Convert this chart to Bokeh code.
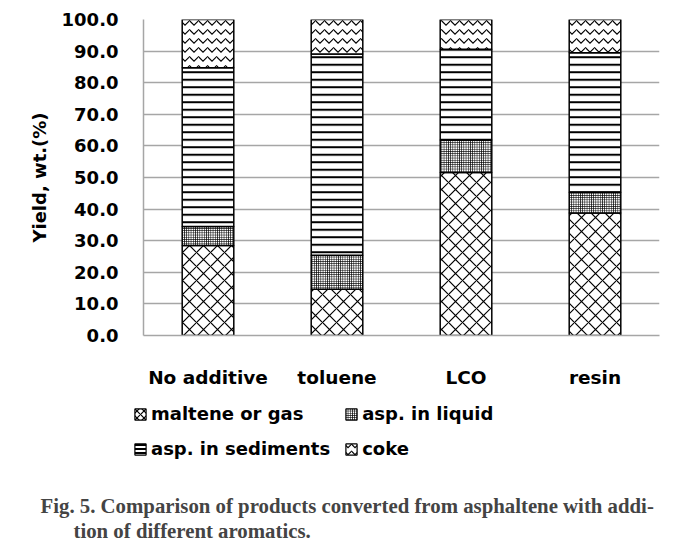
from bokeh.plotting import figure
from bokeh.models import ColumnDataSource, Legend, LegendItem, Label, Range1d, FixedTicker, NumeralTickFormatter
from bokeh.embed import file_html
from bokeh.resources import INLINE

categories = ["No additive", "toluene", "LCO", "resin"]
maltene = [28.5, 14.6, 51.6, 38.8]
asp_liquid = [6.0, 10.8, 10.3, 6.5]
asp_sed = [50.2, 63.7, 28.7, 44.2]
coke = [15.3, 10.9, 9.4, 10.5]
series_keys = ["maltene", "asp_liquid", "asp_sed", "coke"]
series_names = ["maltene or gas", "asp. in liquid", "asp. in sediments", "coke"]
y_ticks = [0, 10, 20, 30, 40, 50, 60, 70, 80, 90, 100]

source = ColumnDataSource(dict(cat=categories, maltene=maltene, asp_liquid=asp_liquid,
                               asp_sed=asp_sed, coke=coke))

FONT = "DejaVu Sans"
hatches = ["x", "+", "-", "v"]
scales = [14, 2.2, 7.5, 9]
weights = [1.2, 1.0, 2.0, 1.2]

# ---- main chart ----
p = figure(x_range=categories, y_range=Range1d(0, 100), width=695, height=390,
           output_backend="svg", toolbar_location=None,
           min_border_left=143, min_border_top=19, min_border_right=36, min_border_bottom=49)
p.outline_line_color = None

renderers = p.vbar_stack(series_keys, x="cat", width=0.4, source=source,
                         fill_color="white", line_color="black", line_width=1.5,
                         hatch_color="black", hatch_pattern=hatches,
                         hatch_scale=scales, hatch_weight=weights)

p.yaxis.ticker = FixedTicker(ticks=y_ticks)
p.yaxis.formatter = NumeralTickFormatter(format="0.0")
for ax in (p.xaxis, p.yaxis):
    ax.major_tick_line_color = None
    ax.minor_tick_line_color = None
    ax.axis_line_color = "#a6a6a6"
    ax.axis_line_width = 1.5
    ax.major_label_text_font = FONT
    ax.major_label_text_font_style = "bold"
    ax.major_label_text_font_size = "18px"
    ax.major_label_text_color = "black"
p.xaxis.major_label_text_font_size = "18.5px"
p.yaxis.major_label_standoff = 19
p.xaxis.major_label_standoff = 25
p.yaxis.axis_label = "Yield, wt.(%)"
p.yaxis.axis_label_text_font = FONT
p.yaxis.axis_label_text_font_style = "bold"
p.yaxis.axis_label_text_font_size = "18px"
p.yaxis.axis_label_text_color = "black"
p.yaxis.axis_label_standoff = 9
p.xgrid.grid_line_color = None
p.ygrid.grid_line_color = "#a6a6a6"
p.ygrid.grid_line_width = 1.5

# ---- legend + caption panel (same data, out of view; only the legend shows) ----
q = figure(width=695, height=152, output_backend="svg", toolbar_location=None,
           x_range=categories, y_range=Range1d(200, 300),
           x_axis_location=None, y_axis_location=None, min_border=0)
q.outline_line_color = None
q.xgrid.grid_line_color = None
q.ygrid.grid_line_color = None

leg_renderers = q.vbar_stack(series_keys, x="cat", width=0.4, source=source,
                             fill_color="white", line_color="black", line_width=1.2,
                             hatch_color="black", hatch_pattern=hatches,
                             hatch_scale=[7, 2.2, 4, 7], hatch_weight=weights)

order = [0, 2, 1, 3]  # legend fills column by column
items = [LegendItem(label=series_names[i], renderers=[leg_renderers[i]]) for i in order]
legend = Legend(items=items, ncols=2, location=(133, 83),
                label_text_font=FONT, label_text_font_style="bold", label_text_font_size="18px",
                label_text_color="black",
                glyph_width=14, glyph_height=14, label_height=21, label_standoff=4, spacing=14,
                padding=0, margin=0, border_line_color=None, background_fill_alpha=0)
q.add_layout(legend, "center")

cap_font = "Liberation Serif"
q.add_layout(Label(x=40, y=37, x_units="screen", y_units="screen",
                   text="Fig. 5. Comparison of products converted from asphaltene with addi-",
                   text_font=cap_font, text_font_style="bold", text_font_size="20.8px",
                   text_baseline="middle"))
q.add_layout(Label(x=73, y=12, x_units="screen", y_units="screen",
                   text="tion of different aromatics.",
                   text_font=cap_font, text_font_style="bold", text_font_size="20.8px",
                   text_baseline="middle"))

open("out.html", "w").write(file_html([p, q], INLINE))
